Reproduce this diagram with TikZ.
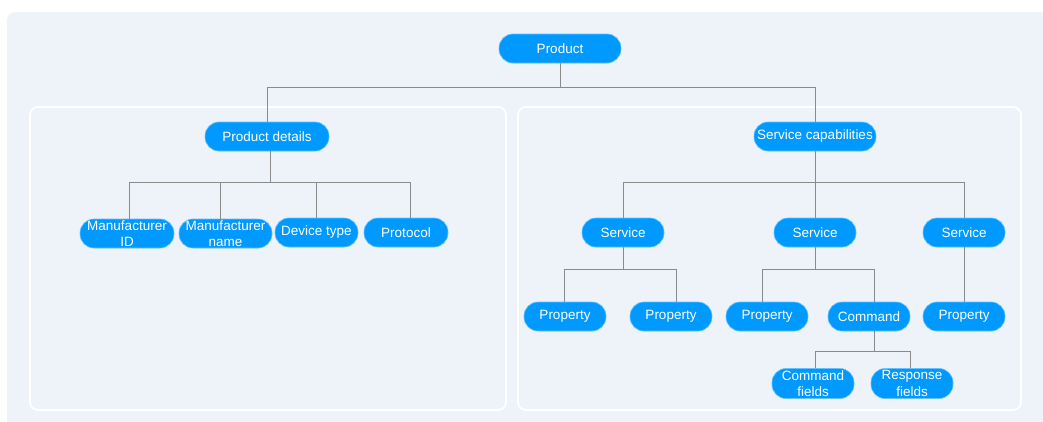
\documentclass[tikz,border=0pt]{standalone}
\usepackage{fontspec}
\setmainfont{Liberation Sans}
\definecolor{bgc}{HTML}{EEF3FA}
\definecolor{nodec}{HTML}{0099FF}
\definecolor{nodeb}{HTML}{66C2FF}
\definecolor{linec}{HTML}{8A8A8A}
\begin{document}
\begin{tikzpicture}[x=1pt,y=-1pt,
  box/.style={draw=nodeb, line width=0.6pt, fill=nodec, text=white, rounded corners=14pt,
    minimum height=29pt, minimum width=82pt, inner sep=0pt, align=center,
    font=\fontsize{13.5}{16.5}\selectfont},
  wide/.style={box, minimum width=122pt},
  panel/.style={draw=white, line width=1.8pt, rounded corners=8pt},
  conn/.style={draw=linec, line width=0.8pt}]
\useasboundingbox (0,0) rectangle (1043,421);
\fill[white] (0,0) rectangle (1043,421);
\fill[bgc, rounded corners=8pt] (7,12) rectangle (1060,440);
\draw[panel] (30,107) rectangle (506,410);
\draw[panel] (518,107) rectangle (1021,410);

\node[wide] (prod) at (560,48.5) {Product};
\node[wide, minimum width=124pt] (pd) at (267,136.5) {Product details};
\node[wide] (sc) at (815,136.5) {Service capabilities};

\node[box, minimum width=94pt] (mid) at (127,233.5) {Manufacturer\\ID};
\node[box, minimum width=93pt] (mname) at (225.5,233.5) {Manufacturer\\name};
\node[box, minimum width=83pt] (dt) at (316.5,232.5) {Device type};
\node[box, minimum width=84pt] (proto) at (406,232.5) {Protocol};

\node[box] (s1) at (623,232.5) {Service};
\node[box] (s2) at (815,232.5) {Service};
\node[box] (s3) at (964,232.5) {Service};

\node[box] (p1) at (565,316.5) {Property};
\node[box] (p2) at (671,316.5) {Property};
\node[box] (p3) at (767,316.5) {Property};
\node[box] (cmd) at (869,316.5) {Command};
\node[box] (p4) at (964,316.5) {Property};

\node[box, minimum height=30pt] (cf) at (813,383.5) {Command\\fields};
\node[box, minimum height=30pt] (rf) at (912,383.5) {Response\\fields};

% connectors
\draw[conn] (prod.south) -- ++(0,24) coordinate (j0) -| (pd.north);
\draw[conn] (j0) -| (sc.north);

\draw[conn] ([xshift=3pt]pd.south) -- ++(0,31) coordinate (j1) -| ([xshift=2pt]mid.north);
\draw[conn] (j1) -| ([xshift=-5.5pt]mname.north);
\draw[conn] (j1) -| (dt.north);
\draw[conn] (j1) -| ([xshift=4pt]proto.north);

\draw[conn] (sc.south) -- ++(0,31) coordinate (j2) -| (s1.north);
\draw[conn] (j2) -- (s2.north);
\draw[conn] (j2) -| (s3.north);

\draw[conn] (s1.south) -- ++(0,22) coordinate (j3) -| ([xshift=-1pt]p1.north);
\draw[conn] (j3) -| ([xshift=5pt]p2.north);

\draw[conn] (s2.south) -- ++(0,22) coordinate (j4) -| ([xshift=-5pt]p3.north);
\draw[conn] (j4) -| ([xshift=5pt]cmd.north);

\draw[conn] (s3.south) -- (p4.north);

\draw[conn] ([xshift=5pt]cmd.south) -- ++(0,20) coordinate (j5) -| ([xshift=2pt]cf.north);
\draw[conn] (j5) -| ([xshift=-2pt]rf.north);
\end{tikzpicture}
\end{document}
